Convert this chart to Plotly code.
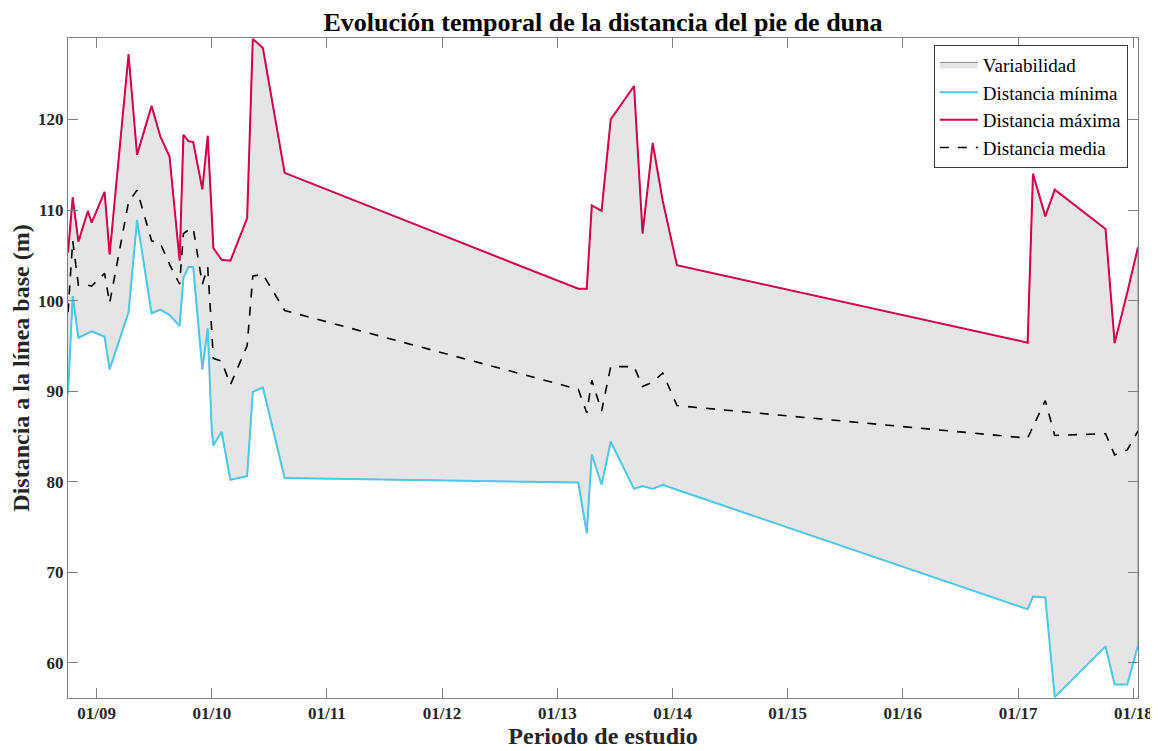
import plotly.graph_objects as go

# ---- data ----
fechas = [
    "2008-10-02", "2008-10-17", "2008-11-04", "2008-12-04", "2008-12-16",
    "2009-01-26", "2009-02-11", "2009-04-12", "2009-05-09", "2009-06-24",
    "2009-07-22", "2009-08-20", "2009-09-21", "2009-10-03", "2009-10-19",
    "2009-11-03", "2009-12-02", "2009-12-19", "2010-01-01", "2010-01-06",
    "2010-02-01", "2010-03-01", "2010-04-23", "2010-05-11", "2010-06-12",
    "2010-08-20", "2013-03-08", "2013-04-04", "2013-04-20", "2013-05-21",
    "2013-06-19", "2013-09-01", "2013-09-28", "2013-10-30", "2013-12-01",
    "2014-01-15", "2017-01-31", "2017-02-17", "2017-03-28", "2017-04-27",
    "2017-10-05", "2017-11-03", "2017-12-13", "2018-01-16",
]
dist_min = [
    89.7, 100.5, 95.9, 96.4, 96.6,
    96.0, 92.4, 98.7, 108.9, 98.6,
    99.0, 98.4, 97.2, 102.5, 103.7,
    103.7, 92.4, 96.9, 85.6, 84.0,
    85.5, 80.2, 80.6, 89.9, 90.4,
    80.4, 79.9, 74.3, 83.0, 79.65,
    84.4, 79.2, 79.5, 79.2, 79.65,
    79.1, 65.9, 67.3, 67.2, 56.2,
    61.8, 57.6, 57.6, 61.9,
]
dist_media = [
    98.7, 106.6, 101.7, 101.7, 101.6,
    103.0, 99.7, 110.9, 112.2, 106.6,
    106.3, 104.0, 101.8, 107.4, 107.8,
    108.0, 101.8, 103.7, 96.5, 93.6,
    93.3, 90.7, 95.0, 102.7, 102.9,
    98.9, 90.2, 87.6, 91.2, 87.8,
    92.7, 92.7, 90.5, 91.0, 92.0,
    88.4, 84.8, 86.1, 88.95, 85.1,
    85.3, 82.95, 83.5, 85.6,
]
dist_max = [
    105.3, 111.4, 106.5, 109.9, 108.6,
    112.0, 105.1, 127.2, 116.1, 121.5,
    118.1, 115.9, 104.4, 118.3, 117.6,
    117.5, 112.3, 118.2, 109.4, 105.8,
    104.5, 104.4, 109.1, 128.9, 127.9,
    114.1, 101.3, 101.3, 110.5, 109.9,
    120.0, 123.7, 107.4, 117.4, 111.0,
    103.9, 95.35, 114.0, 109.3, 112.25,
    107.9, 95.3, 100.9, 105.9,
]
tick_fechas = ["2009-01-01", "2010-01-01", "2011-01-01", "2012-01-01", "2013-01-01",
               "2014-01-01", "2015-01-01", "2016-01-01", "2017-01-01", "2018-01-01"]
tick_textos = ["01/09", "01/10", "01/11", "01/12", "01/13",
               "01/14", "01/15", "01/16", "01/17", "01/18"]
y_ticks = [60, 70, 80, 90, 100, 110, 120]

SERIF = "Liberation Serif, Times New Roman, serif"
AXIS_COL = "#808080"
TXT_COL = "#262626"

fig = go.Figure()

# variability band (polygon between min and max)
fig.add_trace(go.Scatter(
    x=fechas + fechas[::-1],
    y=dist_max + dist_min[::-1],
    fill="toself",
    fillcolor="#E5E5E5",
    line=dict(color="#6e6e6e", width=0.8),
    mode="lines",
    name="Variabilidad",
    hoverinfo="skip",
))
fig.add_trace(go.Scatter(
    x=fechas, y=dist_min, mode="lines", name="Distancia mínima",
    line=dict(color="#4CC9E8", width=2),
))
fig.add_trace(go.Scatter(
    x=fechas, y=dist_max, mode="lines", name="Distancia máxima",
    line=dict(color="#D6004F", width=2),
))
fig.add_trace(go.Scatter(
    x=fechas, y=dist_media, mode="lines", name="Distancia media",
    line=dict(color="black", width=1.6, dash="dash"),
))

ymin = min(dist_min)
ymax = max(dist_max)

# the page body adds an 8px margin, so the figure is 8px smaller each way
fig.update_layout(
    width=1150, height=743,
    template="none",
    paper_bgcolor="white", plot_bgcolor="white",
    margin=dict(l=60, r=20, t=30, b=53, autoexpand=False),
    font=dict(family=SERIF, color=TXT_COL),
    title=dict(
        text="Evolución temporal de la distancia del pie de duna",
        font=dict(family=SERIF, size=26, color="black", weight="bold"),
        x=0.5174, xanchor="center", y=0.981, yanchor="middle",
    ),
    showlegend=True,
    legend=dict(
        x=0.9905, xanchor="right", y=0.99, yanchor="top",
        bgcolor="white", bordercolor="#3a3a3a", borderwidth=1,
        font=dict(family=SERIF, size=19, color="black"),
        itemwidth=38, tracegroupgap=0,
    ),
    xaxis=dict(
        type="date", automargin=False,
        range=[fechas[0], fechas[-1]],
        tickvals=tick_fechas, ticktext=tick_textos,
        ticks="inside", ticklen=10, tickcolor=AXIS_COL, tickwidth=1,
        showline=True, linecolor=AXIS_COL, linewidth=1, mirror="ticks",
        showgrid=False, zeroline=False,
        tickfont=dict(family=SERIF, size=17, color=TXT_COL, weight="bold"),
        title=dict(text="Periodo de estudio", standoff=4,
                   font=dict(family=SERIF, size=24, color=TXT_COL, weight="bold")),
    ),
    yaxis=dict(
        automargin=False,
        range=[ymin - 0.1, ymax + 0.1],
        tickvals=y_ticks,
        ticks="inside", ticklen=10, tickcolor=AXIS_COL, tickwidth=1,
        showline=True, linecolor=AXIS_COL, linewidth=1, mirror="ticks",
        showgrid=False, zeroline=False,
        tickfont=dict(family=SERIF, size=17, color=TXT_COL, weight="bold"),
        title=dict(text="Distancia a la línea base (m)", standoff=6,
                   font=dict(family=SERIF, size=24, color=TXT_COL, weight="bold")),
    ),
)

fig.write_html("out.html")
